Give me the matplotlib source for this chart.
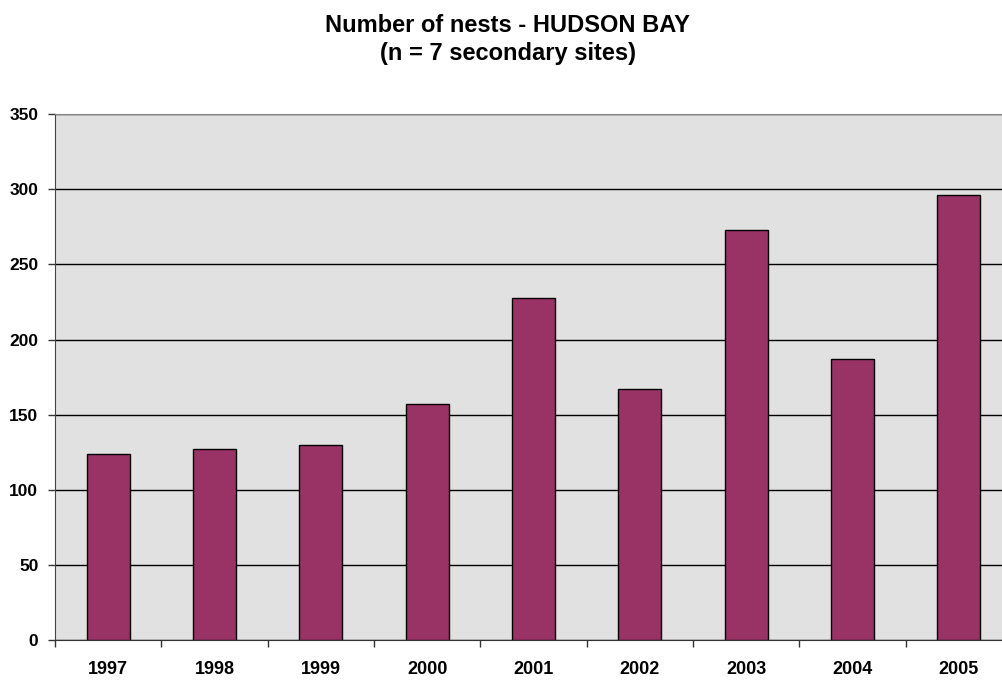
import matplotlib.pyplot as plt
import numpy as np

years = ["1997", "1998", "1999", "2000", "2001", "2002", "2003", "2004", "2005"]
nests = [124, 127, 130, 157, 228, 167, 273, 187, 296]
y_ticks = [0, 50, 100, 150, 200, 250, 300, 350]

plt.rcParams["font.family"] = ["Liberation Sans", "DejaVu Sans"]

fig = plt.figure(figsize=(10.03, 6.81), dpi=100)
# plot area runs slightly past the right edge, as in the source image
ax = fig.add_axes([55 / 1003, 41 / 681, 957 / 1003, 525.7 / 681])
ax.set_facecolor("#e1e1e1")

x = np.arange(len(years))
ax.bar(x, nests, width=0.405, color="#993366", edgecolor="black", linewidth=1.0, zorder=3)

ax.set_xlim(-0.5, len(years) - 0.5)
ax.set_ylim(0, 350)
ax.set_yticks(y_ticks)
ax.set_yticklabels([str(v) for v in y_ticks], fontsize=12.5, fontweight="bold")
ax.yaxis.grid(True, color="black", linewidth=1.0, zorder=1)
ax.set_axisbelow(True)

ax.set_xticks(x)
ax.set_xticklabels(years, fontsize=13, fontweight="bold")
ax.set_xticks(np.arange(len(years) + 1) - 0.5, minor=True)
ax.tick_params(axis="x", which="major", length=0, pad=15)
ax.tick_params(axis="x", which="minor", length=5, width=1, color="#333333", direction="out")
ax.tick_params(axis="y", length=5, width=1, color="#333333", direction="out", pad=7)

ax.spines["top"].set_color("#888888")
ax.spines["right"].set_visible(False)
ax.spines["left"].set_color("#444444")
ax.spines["bottom"].set_color("#333333")

fig.text(508 / 1003, 1 - 31.7 / 681, "Number of nests - HUDSON BAY",
         ha="center", va="baseline", fontsize=17, fontweight="bold")
fig.text(508 / 1003, 1 - 60 / 681, "(n = 7 secondary sites)",
         ha="center", va="baseline", fontsize=17, fontweight="bold")

fig.savefig("out.png", dpi=100)
